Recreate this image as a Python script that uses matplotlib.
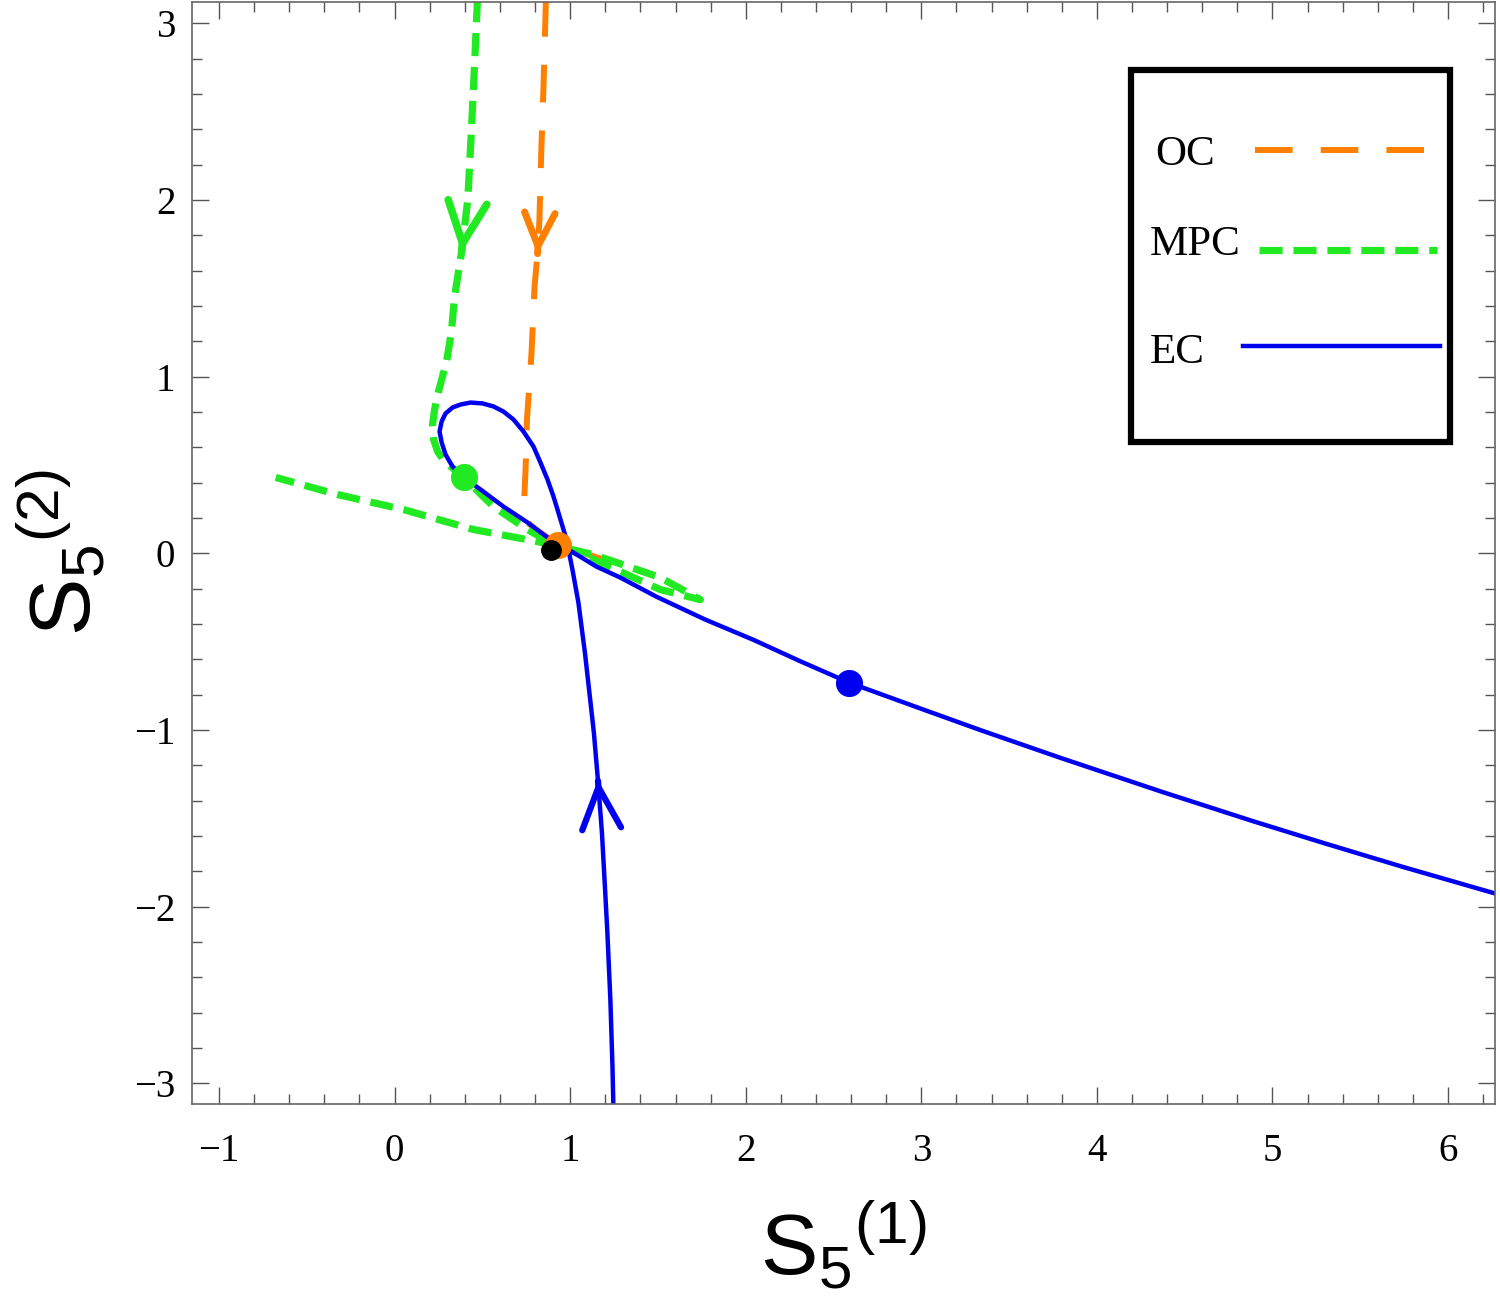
import matplotlib
matplotlib.use('Agg')
import numpy as np
import matplotlib.pyplot as plt
from matplotlib.ticker import MultipleLocator
from matplotlib.patches import Rectangle
from matplotlib.lines import Line2D

plt.rcParams['mathtext.fontset'] = 'custom'
plt.rcParams['mathtext.rm'] = 'Liberation Sans'
plt.rcParams['mathtext.it'] = 'Liberation Sans'

# EC trajectory (blue), from the bottom edge up through the loop and out to the right
ec_x = [1.246, 1.241, 1.229, 1.212, 1.198, 1.181, 1.158, 1.135, 1.116, 1.084, 1.047, 1.013,
        0.990, 0.979, 0.962, 0.933, 0.905, 0.871, 0.831, 0.791, 0.734, 0.677, 0.620, 0.563,
        0.501, 0.433, 0.376, 0.330, 0.290, 0.268, 0.256, 0.268, 0.290, 0.330, 0.387, 0.489,
        0.620, 0.757, 0.871, 0.990, 1.150, 1.286, 1.491, 1.770, 2.043, 2.316, 2.590, 3.000,
        3.347, 3.791, 4.371, 4.889, 5.299, 5.743, 6.295]
ec_y = [-3.123, -2.908, -2.528, -2.148, -1.888, -1.582, -1.282, -1.015, -0.845, -0.562, -0.279, -0.092,
        0.022, 0.078, 0.135, 0.231, 0.322, 0.418, 0.514, 0.605, 0.690, 0.758, 0.803, 0.832,
        0.849, 0.854, 0.843, 0.826, 0.792, 0.747, 0.690, 0.628, 0.560, 0.492, 0.435, 0.362,
        0.265, 0.175, 0.090, 0.022, -0.075, -0.137, -0.245, -0.375, -0.489, -0.613, -0.732, -0.880,
        -1.004, -1.157, -1.350, -1.516, -1.642, -1.775, -1.933]
ec_arrow = 6

# OC trajectory (orange), from the top edge down
oc_x = [0.862, 0.848, 0.835, 0.825, 0.814, 0.797, 0.780, 0.754, 0.746, 0.737, 0.751, 0.820,
        0.933, 1.155, 1.355]
oc_y = [3.138, 2.639, 2.265, 1.891, 1.693, 1.511, 1.137, 0.758, 0.475, 0.277, 0.180, 0.124,
        0.050, -0.024, -0.075]
oc_arrow = 4

# MPC trajectory (green), from the top edge down, out to the right and back along the line
mpc_x = [0.472, 0.455, 0.437, 0.417, 0.381, 0.341, 0.324, 0.296, 0.250, 0.228, 0.216, 0.222,
         0.245, 0.279, 0.319, 0.393, 0.563, 0.757, 0.888, 1.133, 1.514, 1.742, 1.514, 1.133,
         0.814, 0.450, 0.051, -0.324, -0.677]
mpc_y = [3.138, 2.758, 2.384, 2.004, 1.704, 1.450, 1.257, 1.087, 0.917, 0.815, 0.730, 0.645,
         0.577, 0.526, 0.492, 0.430, 0.265, 0.135, 0.061, -0.035, -0.205, -0.262, -0.137, -0.007,
         0.067, 0.135, 0.248, 0.333, 0.430]
mpc_arrow = 4

# special points
pt_x = {"mpc": 0.393, "oc": 0.933, "black": 0.888, "ec": 2.590}
pt_y = {"mpc": 0.430, "oc": 0.050, "black": 0.022, "ec": -0.732}

c_oc = '#ff8000'
c_mpc = '#22ea22'
c_ec = '#0000f0'

fig = plt.figure(figsize=(15, 13), dpi=100)
ax = fig.add_axes([0.128, 0.1508, 0.8687, 0.8477])

ax.plot(oc_x, oc_y, color=c_oc, lw=4.3, dashes=(6.3, 4.7), solid_capstyle='butt')
ax.plot(mpc_x, mpc_y, color=c_mpc, lw=5.2, dashes=(3.2, 1.5), solid_joinstyle='round')
ax.plot(ec_x, ec_y, color=c_ec, lw=3.2)

def chevron(xs, ys, k, color, hl, hw, lw):
    tip = np.array([xs[k], ys[k]])
    prev = np.array([xs[k-1], ys[k-1]])
    tail = tip - 0.02*(tip - prev)
    ax.annotate("", xy=tip, xytext=tail,
                arrowprops=dict(arrowstyle="->,head_length=%g,head_width=%g" % (hl, hw),
                                color=color, lw=lw, shrinkA=0, shrinkB=0, mutation_scale=10))

chevron(ec_x, ec_y, ec_arrow, c_ec, 3.0, 1.4, 4.5)
chevron(oc_x, oc_y, oc_arrow, c_oc, 2.4, 1.1, 5.0)
chevron(mpc_x, mpc_y, mpc_arrow, c_mpc, 3.0, 1.4, 5.5)

ax.plot(pt_x["mpc"], pt_y["mpc"], 'o', color=c_mpc, ms=18.5, zorder=5)
ax.plot(pt_x["oc"], pt_y["oc"], 'o', color=c_oc, ms=18.5, zorder=5)
ax.plot(pt_x["black"], pt_y["black"], 'o', color='k', ms=14, zorder=6)
ax.plot(pt_x["ec"], pt_y["ec"], 'o', color=c_ec, ms=18.5, zorder=5)

ax.set_xlim(-1.154, 6.268)
ax.set_ylim(-3.117, 3.122)
ax.xaxis.set_major_locator(MultipleLocator(1))
ax.xaxis.set_minor_locator(MultipleLocator(0.2))
ax.yaxis.set_major_locator(MultipleLocator(1))
ax.yaxis.set_minor_locator(MultipleLocator(0.2))
ax.tick_params(which='both', direction='in', top=True, right=True, color='#555555', width=1.0)
ax.tick_params(which='major', length=12)
ax.tick_params(which='minor', length=7)
ax.tick_params(axis='x', which='major', pad=21)
ax.tick_params(axis='y', which='major', pad=12)
for lab in ax.get_xticklabels() + ax.get_yticklabels():
    lab.set_fontfamily('Liberation Serif')
    lab.set_fontsize(28)
for s in ax.spines.values():
    s.set_color('#666666')
    s.set_linewidth(1.2)

ax.set_xlabel(r'${\mathrm{S}_5}^{(1)}$', fontsize=62, labelpad=22)
ax.set_ylabel(r'${\mathrm{S}_5}^{(2)}$', fontsize=62, labelpad=18)

# legend box drawn by hand to get the wide spacing of the original
ax.add_patch(Rectangle((0.7203, 0.6007), 0.2455, 0.3376, transform=ax.transAxes,
                       fill=True, facecolor='white', edgecolor='black', lw=4.5, zorder=10))
ax.add_line(Line2D([0.8158, 0.9486], [0.8657, 0.8657], transform=ax.transAxes, color=c_oc,
                   lw=4.3, dashes=(6.3, 4.7), zorder=11))
ax.add_line(Line2D([0.8189, 0.9555], [0.775, 0.775], transform=ax.transAxes, color=c_mpc,
                   lw=5.2, dashes=(3.2, 1.5), zorder=11))
ax.add_line(Line2D([0.8066, 0.9578], [0.6878, 0.6878], transform=ax.transAxes, color=c_ec,
                   lw=3.2, zorder=11))
for lbl, xx, yy in [("OC", 0.739, 0.8612), ("MPC", 0.735, 0.7795), ("EC", 0.735, 0.6815)]:
    ax.text(xx, yy, lbl, transform=ax.transAxes, fontsize=31, family='Liberation Serif',
            ha='left', va='center', zorder=12)

plt.savefig('out.png', dpi=100)
